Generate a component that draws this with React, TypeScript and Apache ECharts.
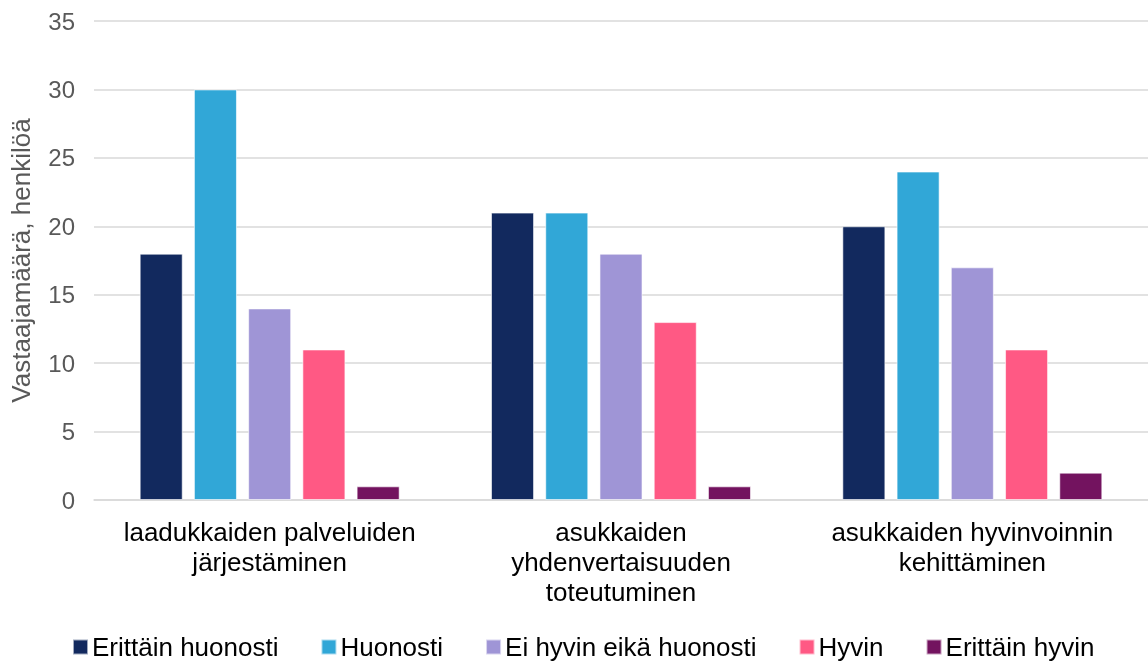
import React, { useEffect, useRef } from "react";
import * as echarts from "echarts";

const categories = [
  "laadukkaiden palveluiden\njärjestäminen",
  "asukkaiden\nyhdenvertaisuuden\ntoteutuminen",
  "asukkaiden hyvinvoinnin\nkehittäminen",
];
const seriesNames = [
  "Erittäin huonosti",
  "Huonosti",
  "Ei hyvin eikä huonosti",
  "Hyvin",
  "Erittäin hyvin",
];
const erittainHuonosti = [18, 21, 20];
const huonosti = [30, 21, 24];
const eiHyvinEikaHuonosti = [14, 18, 17];
const hyvin = [11, 13, 11];
const erittainHyvin = [1, 1, 2];
const colors = ["#12295E", "#31A7D7", "#9F95D6", "#FF5984", "#73135F"];
const yTicks = { min: 0, max: 35, interval: 5 };
const yName = "Vastaajamäärä, henkilöä";

export default function App() {
  const ref = useRef<HTMLDivElement>(null);
  useEffect(() => {
    document.body.style.margin = "0";
    document.body.style.overflow = "hidden";
    const chart = echarts.init(ref.current!, null, { renderer: "svg" });
    const values = [erittainHuonosti, huonosti, eiHyvinEikaHuonosti, hyvin, erittainHyvin];
    const font = "'Liberation Sans', Arial, sans-serif";
    chart.setOption({
      animation: false,
      textStyle: { fontFamily: font },
      grid: { left: 90, right: 0, top: 21, bottom: 161, containLabel: false },
      legend: {
        top: 634,
        left: 72,
        padding: 0,
        itemWidth: 15,
        itemHeight: 15,
        itemGap: 42,
        icon: "rect",
        textStyle: {
          fontSize: 26,
          lineHeight: 26,
          color: "#000",
          fontFamily: font,
          padding: [0, 0, 0, -1],
        },
        data: seriesNames,
      },
      xAxis: {
        type: "category",
        data: categories,
        axisLine: { show: true, lineStyle: { color: "#d9d9d9", width: 1.5 } },
        axisTick: { show: false },
        axisLabel: {
          interval: 0,
          fontSize: 26,
          color: "#000",
          lineHeight: 30,
          margin: 17,
          fontFamily: font,
        },
      },
      yAxis: {
        type: "value",
        min: yTicks.min,
        max: yTicks.max,
        interval: yTicks.interval,
        name: yName,
        nameLocation: "middle",
        nameGap: 60,
        nameTextStyle: { fontSize: 26, color: "#595959", fontFamily: font },
        axisLine: { show: false },
        axisTick: { show: false },
        axisLabel: { fontSize: 24, color: "#595959", margin: 19, fontFamily: font },
        splitLine: { lineStyle: { color: "#d9d9d9", width: 1.5 } },
      },
      series: values.map((v, i) => ({
        name: seriesNames[i],
        type: "bar",
        data: v,
        barGap: "26%",
        barCategoryGap: "26%",
        itemStyle: { color: colors[i], borderColor: "rgba(255,255,255,0.6)", borderWidth: 1 },
      })),
    });
    return () => chart.dispose();
  }, []);
  return (
    <div
      ref={ref}
      style={{ position: "fixed", left: 0, top: 0, width: 1148, height: 661 }}
    />
  );
}
